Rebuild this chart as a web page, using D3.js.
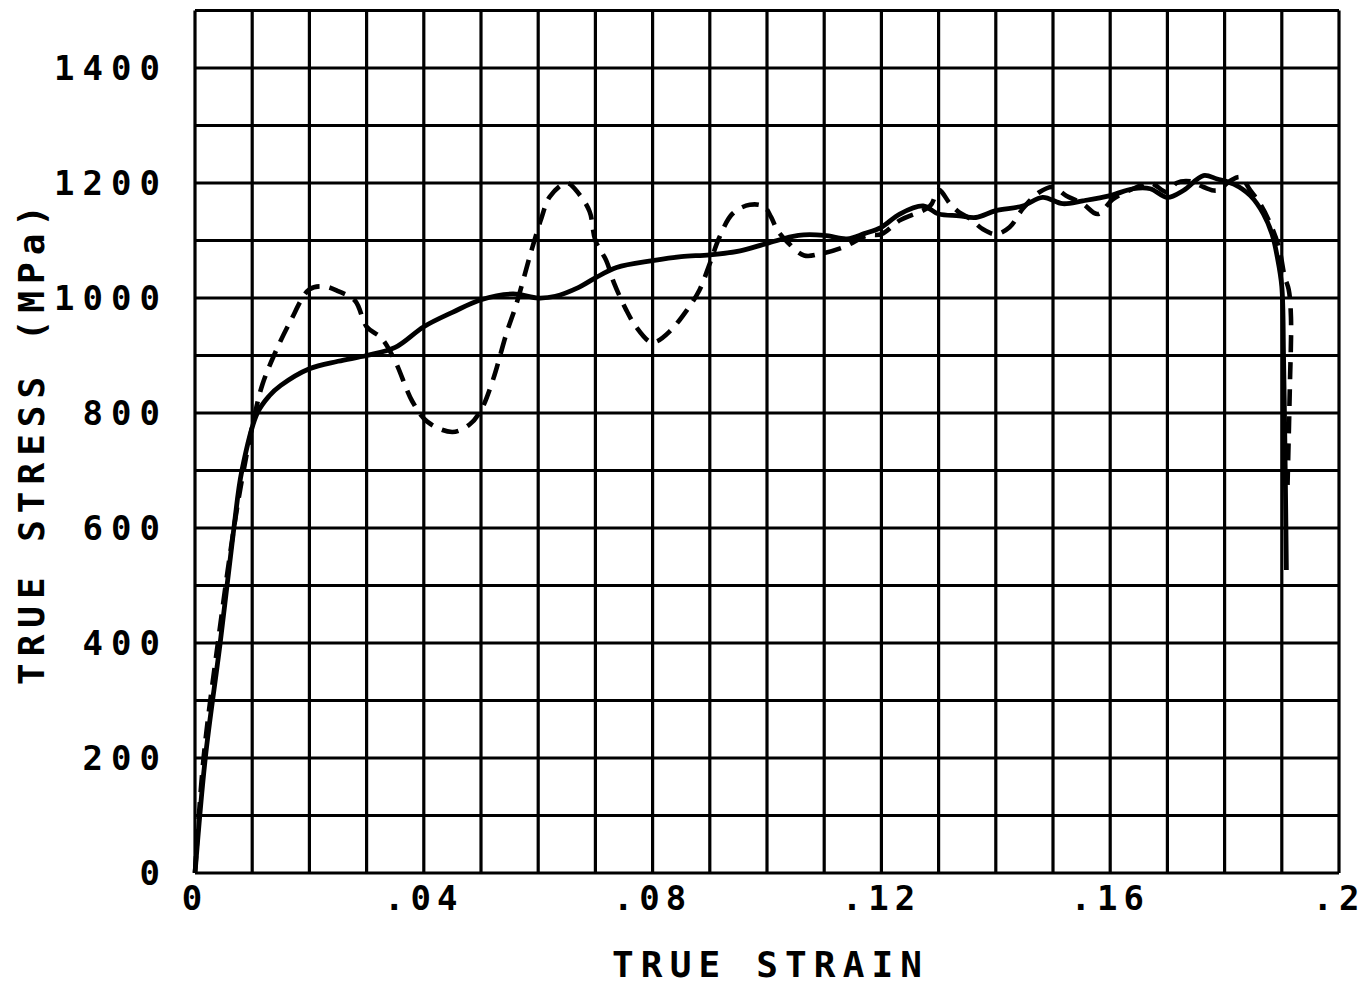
<!DOCTYPE html>
<html>
<head>
<meta charset="utf-8">
<script src="https://cdn.jsdelivr.net/npm/d3@7"></script>
<style>
  body { margin: 0; background: #fff; }
  text { font-family: "DejaVu Sans Mono", "Liberation Mono", monospace; font-weight: bold; fill: #000; }
</style>
</head>
<body>
<svg id="chart" width="1367" height="989"></svg>
<script>
"use strict";

// solid curve (true stress vs true strain)
var solidStrain = [0, 0.0018, 0.0044, 0.0068, 0.0082, 0.0109, 0.0130, 0.0150, 0.020, 0.025, 0.030, 0.035,
  0.040, 0.045, 0.050, 0.0556, 0.060, 0.063, 0.067, 0.070, 0.0737, 0.080, 0.085, 0.090, 0.0953, 0.100,
  0.1055, 0.110, 0.114, 0.117, 0.120, 0.1232, 0.1273, 0.130, 0.1336, 0.1365, 0.140, 0.1447, 0.1482,
  0.1517, 0.1552, 0.160, 0.164, 0.167, 0.170, 0.1728, 0.1763, 0.1787, 0.1816, 0.1845, 0.1868, 0.1883,
  0.1892, 0.1900, 0.1903, 0.1906, 0.1908];
var solidStress = [0, 200, 400, 600, 700, 800, 830, 848, 877, 890, 900, 914,
  950, 975, 997, 1007, 1000, 1003, 1018, 1035, 1053, 1065, 1072, 1075, 1082, 1095,
  1109, 1109, 1103, 1112, 1123, 1146, 1160, 1146, 1143, 1140, 1152, 1160, 1175,
  1164, 1169, 1178, 1190, 1190, 1175, 1187, 1213, 1207, 1198, 1178, 1146, 1111,
  1072, 1020, 900, 700, 527];

// dashed curve
var dashStrain = [0, 0.0015, 0.004, 0.0068, 0.0085, 0.0105, 0.0118, 0.0138, 0.0167, 0.020, 0.0226, 0.025,
  0.028, 0.030, 0.0326, 0.035, 0.038, 0.0406, 0.045, 0.048, 0.050, 0.052, 0.0545, 0.0562, 0.0588,
  0.0606, 0.062, 0.065, 0.0672, 0.069, 0.070, 0.0719, 0.0733, 0.0754, 0.0771, 0.0795, 0.0806, 0.083,
  0.086, 0.0882, 0.090, 0.0917, 0.094, 0.097, 0.0995, 0.1007, 0.1018, 0.1036, 0.1065, 0.1094, 0.1135,
  0.1176, 0.120, 0.1232, 0.1285, 0.130, 0.132, 0.1336, 0.1355, 0.1377, 0.140, 0.1424, 0.1447, 0.1476,
  0.150, 0.1523, 0.1552, 0.1578, 0.1605, 0.164, 0.167, 0.170, 0.1716, 0.174, 0.1763, 0.1787, 0.181,
  0.1828, 0.1845, 0.1862, 0.188, 0.1895, 0.1905, 0.1912, 0.1916, 0.1914, 0.1910];
var dashStress = [0, 200, 400, 600, 700, 800, 850, 900, 960, 1015, 1020, 1012,
  995, 950, 930, 890, 820, 785, 767, 780, 805, 855, 940, 990, 1082,
  1140, 1176, 1200, 1180, 1150, 1100, 1065, 1025, 979, 950, 924, 924, 942,
  979, 1014, 1060, 1106, 1147, 1162, 1159, 1141, 1118, 1097, 1074, 1077, 1089,
  1109, 1111, 1135, 1160, 1188, 1164, 1149, 1138, 1120, 1111, 1123, 1155, 1184,
  1193, 1178, 1164, 1146, 1172, 1190, 1200, 1184, 1200, 1203, 1193, 1187, 1204,
  1210, 1187, 1164, 1129, 1088, 1037, 1015, 967, 842, 675, 500];

var xTicks = [0, 0.04, 0.08, 0.12, 0.16, 0.2];
var yTicks = [0, 200, 400, 600, 800, 1000, 1200, 1400];
var xGrid = d3.range(0, 21).map(function (i) { return i / 100; });
var yGrid = d3.range(0, 16).map(function (i) { return i * 100; });

var margin = { left: 195, top: 10.5, right: 28, bottom: 116 };
var width = 1367 - margin.left - margin.right;
var height = 989 - margin.top - margin.bottom;

var svg = d3.select("#chart");
var g = svg.append("g").attr("transform", "translate(" + margin.left + "," + margin.top + ")");

var x = d3.scaleLinear().domain([0, 0.2]).range([0, width]);
var y = d3.scaleLinear().domain([0, 1500]).range([height, 0]);

// grid
g.append("g").selectAll("line").data(xGrid).join("line")
  .attr("x1", function (d) { return x(d); }).attr("x2", function (d) { return x(d); })
  .attr("y1", 0).attr("y2", height)
  .attr("stroke", "#000").attr("stroke-width", 3.2);
g.append("g").selectAll("line").data(yGrid).join("line")
  .attr("x1", 0).attr("x2", width)
  .attr("y1", function (d) { return y(d); }).attr("y2", function (d) { return y(d); })
  .attr("stroke", "#000").attr("stroke-width", 3.2);

// tick labels
var fmtX = function (d) { return d === 0 ? "0" : String(d).replace(/^0/, ""); };
g.append("g").selectAll("text").data(xTicks).join("text")
  .attr("x", function (d) { return x(d); })
  .attr("y", height + 37)
  .attr("text-anchor", "middle")
  .attr("font-size", 34)
  .attr("letter-spacing", 6)
  .text(fmtX);
g.append("g").selectAll("text").data(yTicks).join("text")
  .attr("x", -27)
  .attr("y", function (d) { return y(d) + 12; })
  .attr("text-anchor", "end")
  .attr("font-size", 34)
  .attr("letter-spacing", 8)
  .text(function (d) { return String(d); });

// axis titles
svg.append("text")
  .attr("x", 767)
  .attr("y", 977)
  .attr("text-anchor", "middle")
  .attr("font-size", 36)
  .attr("textLength", 310)
  .attr("lengthAdjust", "spacing")
  .text("TRUE STRAIN");
svg.append("text")
  .attr("transform", "translate(44," + 445 + ") rotate(-90)")
  .attr("text-anchor", "middle")
  .attr("font-size", 36)
  .attr("textLength", 480)
  .attr("lengthAdjust", "spacing")
  .text("TRUE STRESS (MPa)");

// curves
var line = d3.line()
  .x(function (d) { return x(d[0]); })
  .y(function (d) { return y(d[1]); })
  .curve(d3.curveCatmullRom.alpha(0.5));

var solid = d3.zip(solidStrain, solidStress);
var dashed = d3.zip(dashStrain, dashStress);

g.append("path").datum(dashed)
  .attr("d", line)
  .attr("fill", "none").attr("stroke", "#000").attr("stroke-width", 4.6)
  .attr("stroke-dasharray", "17,10");
g.append("path").datum(solid)
  .attr("d", line)
  .attr("fill", "none").attr("stroke", "#000").attr("stroke-width", 4.8);
</script>
</body>
</html>
